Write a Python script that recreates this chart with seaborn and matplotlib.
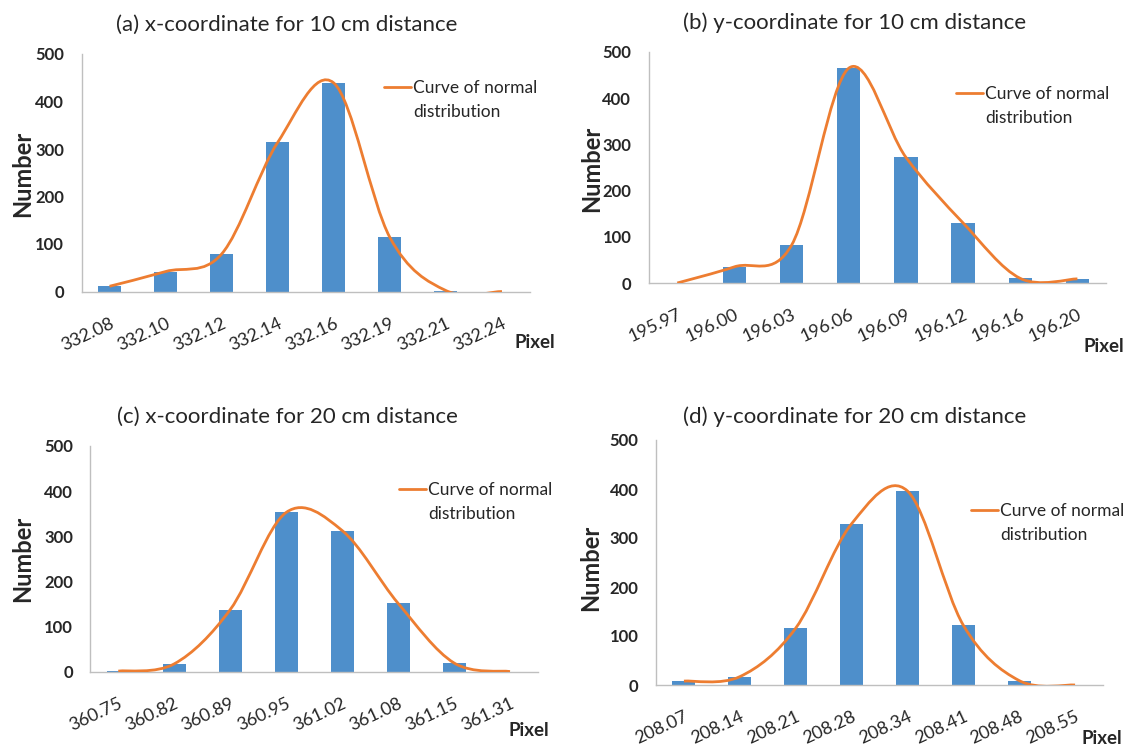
import numpy as np
import pandas as pd
import matplotlib
matplotlib.use("Agg")
import matplotlib.pyplot as plt
import seaborn as sns
from matplotlib.path import Path
from matplotlib.patches import PathPatch
from matplotlib.lines import Line2D

# ---------------- data ----------------
titles = ["(a) x-coordinate for 10 cm distance",
          "(b) y-coordinate for 10 cm distance",
          "(c) x-coordinate for 20 cm distance",
          "(d) y-coordinate for 20 cm distance"]
labels_a = ["332.08", "332.10", "332.12", "332.14", "332.16", "332.19", "332.21", "332.24"]
counts_a = [11, 42, 79, 314, 439, 114, 2, 0]
labels_b = ["195.97", "196.00", "196.03", "196.06", "196.09", "196.12", "196.16", "196.20"]
counts_b = [0, 35, 82, 465, 272, 130, 10, 9]
labels_c = ["360.75", "360.82", "360.89", "360.95", "361.02", "361.08", "361.15", "361.31"]
counts_c = [2, 18, 138, 353, 313, 152, 20, 1]
labels_d = ["208.07", "208.14", "208.21", "208.28", "208.34", "208.41", "208.48", "208.55"]
counts_d = [8, 17, 116, 329, 396, 122, 9, 0]
y_ticks = [0, 100, 200, 300, 400, 500]
legend_lines = ["Curve of normal", "distribution"]

BAR = "#4E8FCB"
ORANGE = "#ED7D31"
GRAY = "#BFBFBF"
TXT = "#262626"

sns.set_theme(style="white")
plt.rcParams["font.family"] = ["Lato", "DejaVu Sans"]

W, H = 1128, 753
fig = plt.figure(figsize=(W / 100, H / 100), dpi=100)


def px_rect(l, t, r, b):
    return [l / W, 1 - b / H, (r - l) / W, (b - t) / H]


def smooth_path(xs, ys, t=1 / 6):
    n = len(xs)
    verts = [(xs[0], ys[0])]
    codes = [Path.MOVETO]
    for i in range(n - 1):
        im1 = max(i - 1, 0)
        ip2 = min(i + 2, n - 1)
        c1 = (xs[i] + (xs[i + 1] - xs[im1]) * t, ys[i] + (ys[i + 1] - ys[im1]) * t)
        c2 = (xs[i + 1] - (xs[ip2] - xs[i]) * t, ys[i + 1] - (ys[ip2] - ys[i]) * t)
        verts += [c1, c2, (xs[i + 1], ys[i + 1])]
        codes += [Path.CURVE4] * 3
    return Path(verts, codes)


panels = [
    dict(labels=labels_a, counts=counts_a, title=titles[0], rect=(81.5, 54, 530, 291.5),
         title_xy=(287, 25), ylab_xy=(23, 174), pix_xy=(535, 342), leg_xy=(384, 80)),
    dict(labels=labels_b, counts=counts_b, title=titles[1], rect=(648.7, 52, 1106, 283),
         title_xy=(855, 23), ylab_xy=(592, 169), pix_xy=(1104, 347), leg_xy=(956, 86)),
    dict(labels=labels_c, counts=counts_c, title=titles[2], rect=(90.3, 446, 538, 672),
         title_xy=(287, 417), ylab_xy=(23, 559), pix_xy=(529, 730), leg_xy=(399, 482)),
    dict(labels=labels_d, counts=counts_d, title=titles[3], rect=(656, 440, 1103, 685),
         title_xy=(855, 417), ylab_xy=(591, 568), pix_xy=(1102, 738), leg_xy=(971, 503)),
]

for p in panels:
    ax = fig.add_axes(px_rect(*p["rect"]))
    df = pd.DataFrame({"Pixel": p["labels"], "Number": p["counts"]})
    sns.barplot(data=df, x="Pixel", y="Number", ax=ax, color=BAR, width=0.41,
                saturation=1, linewidth=0)
    xs = np.arange(len(p["counts"]), dtype=float)
    ys = np.asarray(p["counts"], dtype=float)
    patch = PathPatch(smooth_path(xs, ys), facecolor="none", edgecolor=ORANGE,
                      linewidth=2.0, zorder=3)
    ax.add_patch(patch)

    ax.set_xlim(-0.5, len(p["counts"]) - 0.5)
    ax.set_ylim(0, 500)
    ax.set_yticks(y_ticks)
    ax.set_yticklabels([str(v) for v in y_ticks], fontsize=12, fontweight="bold", color=TXT)
    ax.set_xticks(xs)
    ax.set_xticklabels(p["labels"], fontsize=13, color=TXT, rotation=25,
                       ha="right", va="top", rotation_mode="anchor")
    ax.set_xticks(np.arange(-0.5, len(p["counts"]), 1.0), minor=True)
    ax.tick_params(axis="x", which="major", length=0, pad=17)
    ax.tick_params(axis="x", which="minor", length=5, width=1, color=GRAY, direction="out")
    ax.tick_params(axis="y", which="major", length=4.5, width=1, color=GRAY, direction="out", pad=8)
    ax.set_xlabel("")
    ax.set_ylabel("")
    for s in ["top", "right"]:
        ax.spines[s].set_visible(False)
    for s in ["left", "bottom"]:
        ax.spines[s].set_color(GRAY)
        ax.spines[s].set_linewidth(1)

    fig.text(p["title_xy"][0] / W, 1 - p["title_xy"][1] / H, p["title"], ha="center",
             va="center", fontsize=16, color=TXT)
    fig.text(p["ylab_xy"][0] / W, 1 - p["ylab_xy"][1] / H, "Number", ha="center",
             va="center", rotation=90, fontsize=17, fontweight="bold", color=TXT)
    fig.text(p["pix_xy"][0] / W, 1 - p["pix_xy"][1] / H, "Pixel", ha="center",
             va="center", fontsize=13.5, fontweight="bold", color=TXT)

    handles = [Line2D([], [], color=ORANGE, linewidth=2.0), Line2D([], [], color="none")]
    leg = ax.legend(handles, legend_lines, loc="upper left",
                    bbox_to_anchor=(p["leg_xy"][0] / W, 1 - p["leg_xy"][1] / H),
                    bbox_transform=fig.transFigure, frameon=False, fontsize=12.5,
                    handlelength=1.55, handletextpad=0.12, borderpad=0, borderaxespad=0,
                    labelspacing=0.45)
    for t in leg.get_texts():
        t.set_color(TXT)

fig.savefig("out.png", dpi=100, facecolor="white")
